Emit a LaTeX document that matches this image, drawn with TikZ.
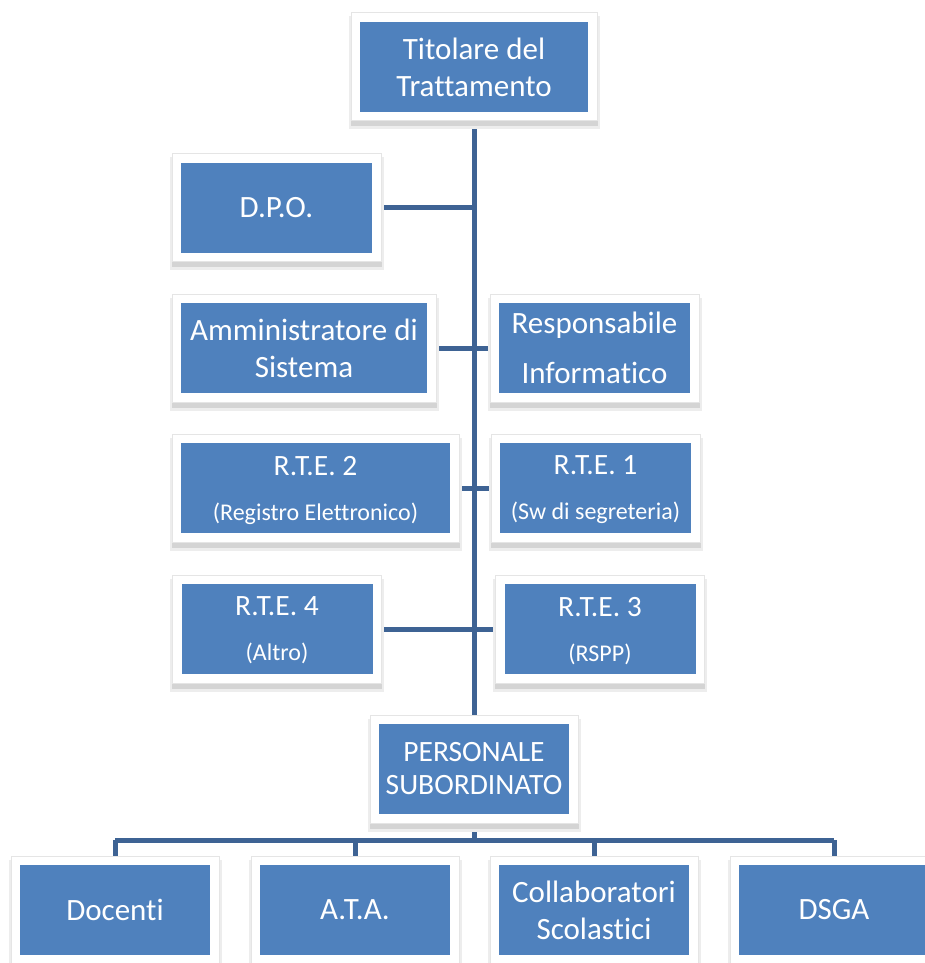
\documentclass[tikz,border=0pt]{standalone}
\usepackage{fontspec}
\setmainfont{Carlito}[Ligatures=NoCommon]
\usetikzlibrary{backgrounds}
\definecolor{boxblue}{RGB}{79,129,189}
\definecolor{linkblue}{RGB}{62,99,148}
\tikzset{
    unit/.style={fill=boxblue, text=white, inner sep=2pt, align=center,
        minimum width=191pt, minimum height=90pt,
        font=\fontsize{31}{37}\selectfont,
        preaction={draw=black!7, fill=black!7, line width=23pt, transform canvas={yshift=-6pt}},
        preaction={draw=black!17, fill=black!17, line width=19pt, transform canvas={yshift=-5pt}},
        preaction={draw=black!10, line width=19pt},
        preaction={draw=white, line width=17pt}},
    rte/.style={unit, font=\fontsize{29.5}{35}\selectfont, text depth=0pt},
    link/.style={draw=linkblue, line width=5pt}
}
\begin{document}
\begin{tikzpicture}[x=1pt,y=-1pt]
    \useasboundingbox (0,0) rectangle (925,963);
    %top of the tree
    \node[unit, minimum width=228pt] (tit) at (474,67) {Titolare del\\Trattamento};
    \node[unit] (dpo) at (276.5,207.5) {D.P.O.};
    \node[unit, minimum width=246pt] (amm) at (304,348) {Amministratore di\\Sistema};
    \node[unit] (resp) at (594.5,348) {Responsabile\\[13pt]Informatico};
    %responsabili del trattamento
    \node[rte, minimum width=269pt] (rte2) at (315.5,488) {R.T.E. 2\\[10pt]{\fontsize{24}{28}\selectfont (Registro Elettronico)}};
    \node[rte] (rte1) at (595.5,488) {R.T.E. 1\\[10pt]{\fontsize{24}{28}\selectfont (Sw di segreteria)}};
    \node[rte] (rte4) at (277,629) {R.T.E. 4\\[10pt]{\fontsize{24}{28}\selectfont (Altro)}};
    \node[rte] (rte3) at (600,629) {R.T.E. 3\\[10pt]{\fontsize{24}{28}\selectfont (RSPP)}};
    %personale
    \node[unit, minimum width=190pt, font=\fontsize{29.5}{33}\selectfont] (pers) at (474,769) {PERSONALE\\SUBORDINATO};
    \node[unit, minimum width=190pt] (doc) at (115,910) {Docenti};
    \node[unit, minimum width=190pt] (ata) at (355,910) {A.T.A.};
    \node[unit, minimum width=190pt] (col) at (594,910) {Collaboratori\\Scolastici};
    \node[unit, minimum width=190pt] (dsga) at (834,910) {DSGA};
    \coordinate (bus) at (474,840);
    %draw lines
    \begin{scope}[on background layer]
        \draw[link] (tit.south) -- (pers.north);
        \draw[link] (dpo.east) -- (dpo.east -| tit.south);
        \draw[link] (amm.east) -- (resp.west);
        \draw[link] (rte2.east) -- (rte1.west);
        \draw[link] (rte4.east) -- (rte3.west);
        \draw[link] (pers.south) -- (bus);
        \draw[link] (bus -| doc.north) -- (bus -| dsga.north);
        \foreach \n in {doc,ata,col,dsga}
            {%
                \draw[link] (bus -| \n.north) -- (\n.north);
            }
    \end{scope}
\end{tikzpicture}
\end{document}
